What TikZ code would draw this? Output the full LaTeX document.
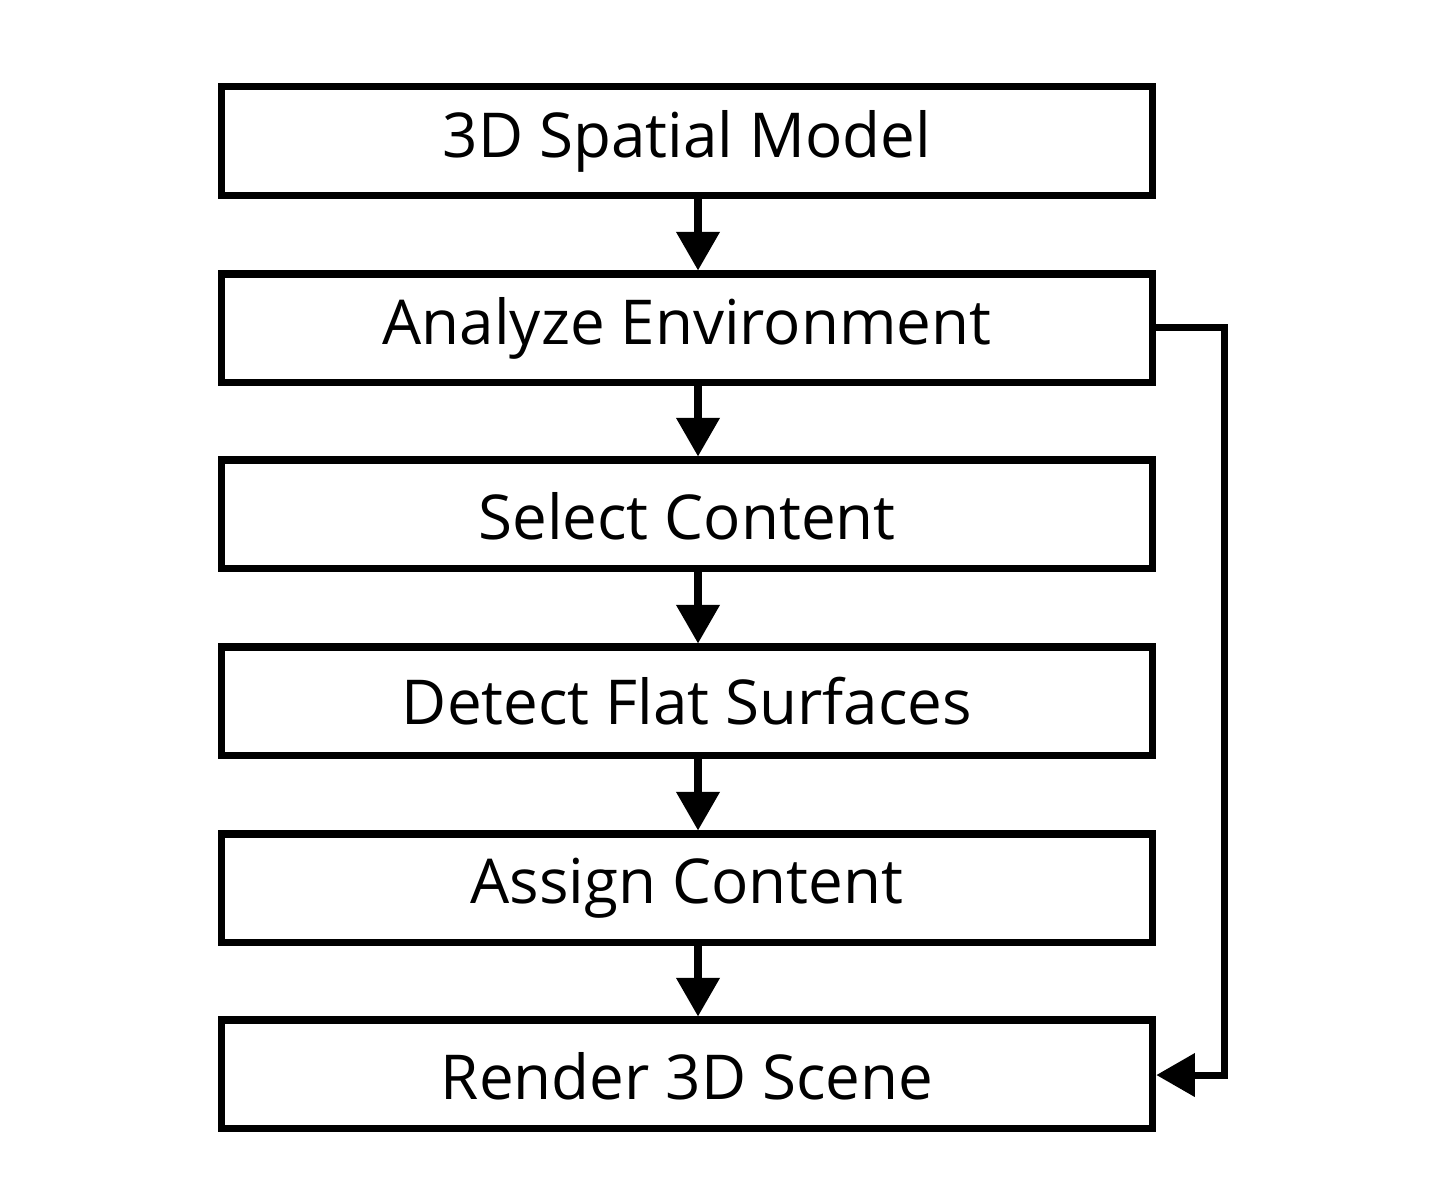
\documentclass[tikz,border=0pt]{standalone}
\usepackage{fontspec}
\setmainfont{Open Sans}
\usetikzlibrary{arrows.meta}
\begin{document}
\begin{tikzpicture}[x=0.01cm,y=-0.01cm,
  box/.style={draw=black,line width=2pt,minimum width=9.31cm,minimum height=1.08cm,inner sep=0pt,font=\fontsize{17.6}{21}\selectfont},
  lbl/.style={font=\fontsize{17.6}{21}\selectfont,inner sep=0pt},
  arr/.style={line width=2pt,-{Triangle[width=12pt,length=11pt]}}]
\useasboundingbox (0,0) rectangle (1440,1190);
\node[box] (a) at (687,141) {};
\node[box] (b) at (687,328) {};
\node[box] (c) at (687,514) {};
\node[box] (d) at (687,701) {};
\node[box] (e) at (687,888) {};
\node[box] (f) at (687,1074) {};
\node[lbl] (ta) at (687,141) {3D Spatial Model};
\node[lbl] (tb) at (687,328) {Analyze Environment};
\node[lbl] (tc) at (687,516) {Select Content};
\node[lbl] (td) at (687,701) {Detect Flat Surfaces};
\node[lbl] (te) at (687,888) {Assign Content};
\node[lbl] (tf) at (687,1076) {Render 3D Scene};
\foreach \u/\v in {a/b,b/c,c/d,d/e,e/f}
  \draw[arr] (\u.south -| 698,0) -- (\v.north -| 698,0);
\coordinate (r1) at (1224,327);
\coordinate (r2) at (1224,1075);
\draw[arr] (b.east |- r1) -- (r1) -- (r2) -- (f.east |- r2);
\end{tikzpicture}
\end{document}
